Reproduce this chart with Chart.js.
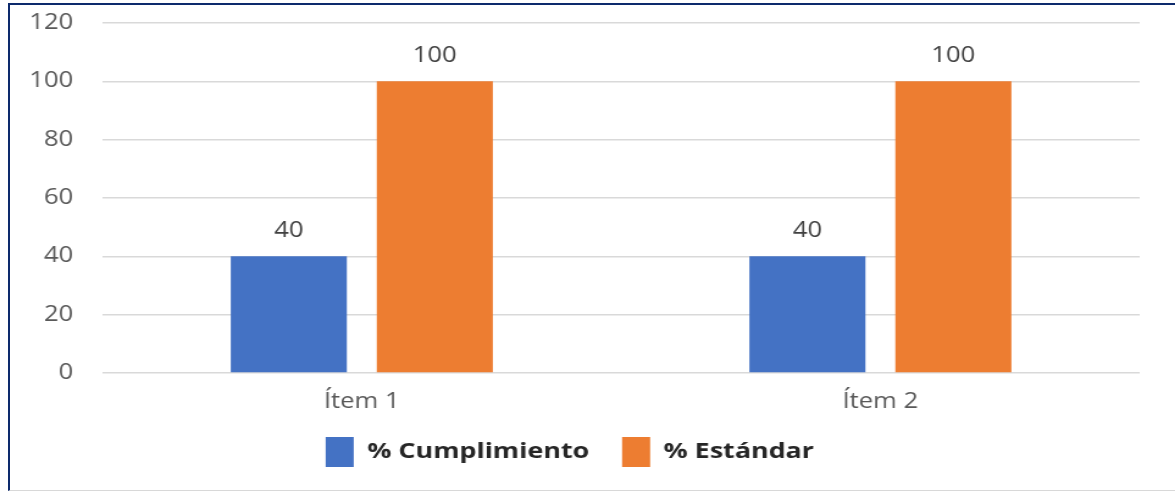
<!DOCTYPE html>
<html>
<head>
<meta charset="utf-8">
<script src="https://cdn.jsdelivr.net/npm/chart.js@4.4.1/dist/chart.umd.min.js"></script>
<style>
  html, body { margin: 0; padding: 0; background: #fff; overflow: hidden; }
  #wrap { position: relative; width: 1175px; height: 492px; }
  /* the chart is laid out narrow and widened, giving the broad lettering */
  #stretch {
    position: absolute; left: 0; top: 0; width: 963px; height: 492px;
    transform: scaleX(1.2202); transform-origin: 0 0;
  }
  #frame {
    position: absolute; left: 8px; top: 3px; right: -4px; bottom: 1px;
    border-left: 2px solid #0d2a6c; border-top: 2px solid #0d2a6c;
    border-bottom: 1px solid #d8d8d8;
    pointer-events: none;
  }
</style>
</head>
<body>
<div id="wrap">
  <div id="stretch"><canvas id="chart" width="963" height="492"></canvas></div>
  <div id="frame"></div>
</div>
<script>
// Compliance vs. standard, per item
const categories = ['Ítem 1', 'Ítem 2'];
const cumplimiento = [40, 40];
const estandar = [100, 100];
const seriesNames = ['% Cumplimiento', '% Estándar'];

const FONT = "'Open Sans', 'DejaVu Sans', sans-serif";

// Writes each bar's value just above it
const valueLabels = {
    id: 'valueLabels',
    afterDatasetsDraw(chart) {
        const ctx = chart.ctx;
        ctx.save();
        ctx.font = '21px ' + FONT;
        ctx.fillStyle = '#404040';
        ctx.textAlign = 'center';
        ctx.textBaseline = 'alphabetic';
        chart.data.datasets.forEach((ds, i) => {
            chart.getDatasetMeta(i).data.forEach((bar, j) => {
                ctx.fillText(String(ds.data[j]), bar.x, bar.y - 19);
            });
        });
        ctx.restore();
    }
};

new Chart(document.getElementById('chart').getContext('2d'), {
    type: 'bar',
    data: {
        labels: categories,
        datasets: [
            {
                label: seriesNames[0],
                data: cumplimiento,
                backgroundColor: '#4472c4',
                barPercentage: 0.795,
                categoryPercentage: 0.563
            },
            {
                label: seriesNames[1],
                data: estandar,
                backgroundColor: '#ed7d31',
                barPercentage: 0.795,
                categoryPercentage: 0.563
            }
        ]
    },
    options: {
        responsive: false,
        animation: false,
        layout: { padding: { left: 0, right: 29, top: 23, bottom: 15 } },
        scales: {
            x: {
                afterFit(scale) { scale.height = 37; },
                grid: { display: false, drawTicks: false },
                border: { display: false },
                ticks: {
                    color: '#595959',
                    font: { family: FONT, size: 21 },
                    padding: 16
                }
            },
            y: {
                min: 0,
                max: 120,
                afterFit(scale) {
                    scale.width = 84;
                    scale.paddingTop = 0;
                    scale.paddingBottom = 0;
                },
                grid: { color: '#d9d9d9', lineWidth: 1.5, drawTicks: false },
                border: { display: false },
                ticks: {
                    stepSize: 20,
                    color: '#595959',
                    font: { family: FONT, size: 21 },
                    padding: 24
                }
            }
        },
        plugins: {
            legend: {
                position: 'bottom',
                labels: {
                    boxWidth: 23,
                    boxHeight: 30,
                    padding: 27,
                    color: '#262626',
                    font: { family: FONT, size: 22, weight: 'bold' }
                }
            },
            tooltip: { enabled: false }
        }
    },
    plugins: [valueLabels]
});
</script>
</body>
</html>
